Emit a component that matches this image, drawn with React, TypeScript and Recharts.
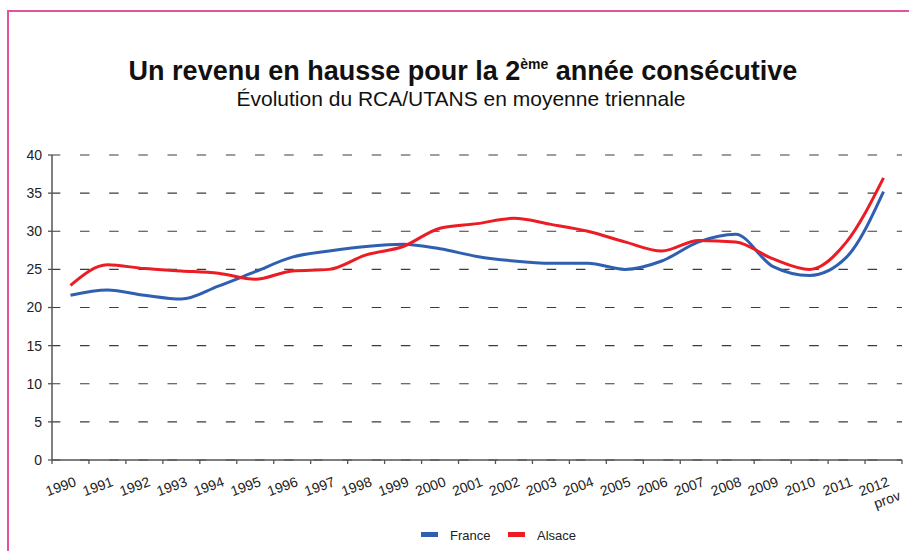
import { LineChart, Line, XAxis, YAxis, CartesianGrid } from "recharts";

const years = [
  "1990", "1991", "1992", "1993", "1994", "1995", "1996", "1997", "1998", "1999", "2000", "2001",
  "2002", "2003", "2004", "2005", "2006", "2007", "2008", "2009", "2010", "2011", "2012",
];
const lastNote = "prov";

const france = [
  21.6, 22.3, 21.6, 21.1, 22.8, 24.7, 26.6, 27.4, 28.0, 28.3, 27.7, 26.7,
  26.1, 25.8, 25.8, 25.0, 26.1, 28.6, 29.6, 25.4, 24.2, 26.6, 35.2,
];
const alsace = [
  22.9, 25.6, 25.1, 24.8, 24.5, 23.7, 24.8, 25.0, 26.9, 28.0, 30.4, 31.0,
  31.7, 30.9, 30.0, 28.6, 27.4, 28.8, 28.6, 26.4, 25.0, 28.6, 37.0,
];
const yTicks = [0, 5, 10, 15, 20, 25, 30, 35, 40];

const series = [
  { key: "france", name: "France", color: "#2f5fb1" },
  { key: "alsace", name: "Alsace", color: "#ec1c24" },
];

const rows = years.map((year, i) => ({ idx: i, year, france: france[i], alsace: alsace[i] }));

const W = 909;
const H = 551;
const margin = { top: 155, right: 7, left: 0, bottom: 0 };
const yAxisWidth = 52;
const xAxisHeight = 91;
const plotWidth = W - margin.left - margin.right - yAxisWidth;
const halfBand = plotWidth / years.length / 2;
const font = "'Liberation Sans', Arial, sans-serif";
const axisColor = "#555";

const YearTick = (props: any) => {
  const { x, y, payload, index } = props;
  const last = index === years.length - 1;
  const ax = x + 5;
  const ay = y + 21;
  return (
    <g>
      <line x1={x - halfBand} y1={y} x2={x - halfBand} y2={y + 4} stroke={axisColor} strokeWidth={1.3} />
      {last && <line x1={x + halfBand} y1={y} x2={x + halfBand} y2={y + 4} stroke={axisColor} strokeWidth={1.3} />}
      <text
        x={ax}
        y={ay}
        textAnchor="end"
        dy="0.35em"
        fontSize={14}
        fontFamily={font}
        fill="#222"
        transform={`rotate(-20, ${ax}, ${ay})`}
      >
        {years[payload.value]}
        {last && (
          <tspan x={ax + 6} dy="1.2em">
            {lastNote}
          </tspan>
        )}
      </text>
    </g>
  );
};

const GridLine = (p: any) => (
  <line
    key={p.key}
    x1={p.x1}
    y1={p.y1}
    x2={p.x2}
    y2={p.y2}
    stroke="#3c3c3c"
    strokeWidth={1.2}
    strokeDasharray="9.5 19.67"
    strokeDashoffset={1.17}
  />
);

export default function App() {
  return (
    <div style={{ position: "absolute", left: 0, top: 0, width: W, height: H, background: "#fff" }}>
      <LineChart width={W} height={H} data={rows} margin={margin}>
        <CartesianGrid vertical={false} horizontal={GridLine} />
        <XAxis
          type="number"
          dataKey="idx"
          domain={[-0.5, years.length - 0.5]}
          ticks={years.map((_, i) => i)}
          interval={0}
          height={xAxisHeight}
          tickSize={0}
          tickMargin={0}
          tick={<YearTick />}
          axisLine={{ stroke: axisColor, strokeWidth: 1.5 }}
        />
        <YAxis
          width={yAxisWidth}
          domain={[0, 40]}
          ticks={yTicks}
          interval={0}
          tickSize={4}
          tickMargin={6}
          tick={{ fontSize: 14, fontFamily: font, fill: "#222" }}
          axisLine={{ stroke: axisColor, strokeWidth: 1.5 }}
          tickLine={{ stroke: axisColor, strokeWidth: 1.3 }}
        />
        {series.map((s) => (
          <Line
            key={s.key}
            type="monotone"
            dataKey={s.key}
            name={s.name}
            stroke={s.color}
            strokeWidth={3}
            dot={false}
            isAnimationActive={false}
          />
        ))}
      </LineChart>

      <svg width={W} height={H} style={{ position: "absolute", left: 0, top: 0, pointerEvents: "none" }}>
        <line x1={8} y1={11} x2={W} y2={11} stroke="#e2529f" strokeWidth={2} />
        <line x1={8} y1={10} x2={8} y2={H} stroke="#e2529f" strokeWidth={2} />
        <text x={463} y={80} textAnchor="middle" fontSize={27} fontWeight="bold" fontFamily={font} fill="#111">
          Un revenu en hausse pour la 2
          <tspan fontSize={14} dy={-11}>ème</tspan>
          <tspan dy={11}> année consécutive</tspan>
        </text>
        <text x={461} y={106} textAnchor="middle" fontSize={21} fontFamily={font} fill="#111">
          Évolution du RCA/UTANS en moyenne triennale
        </text>
        {series.map((s, i) => (
          <g key={s.key}>
            <rect x={421 + i * 87} y={532} width={17} height={5} fill={s.color} />
            <text x={450 + i * 87} y={535} dy="0.35em" fontSize={13} fontFamily={font} fill="#222">
              {s.name}
            </text>
          </g>
        ))}
      </svg>
    </div>
  );
}
